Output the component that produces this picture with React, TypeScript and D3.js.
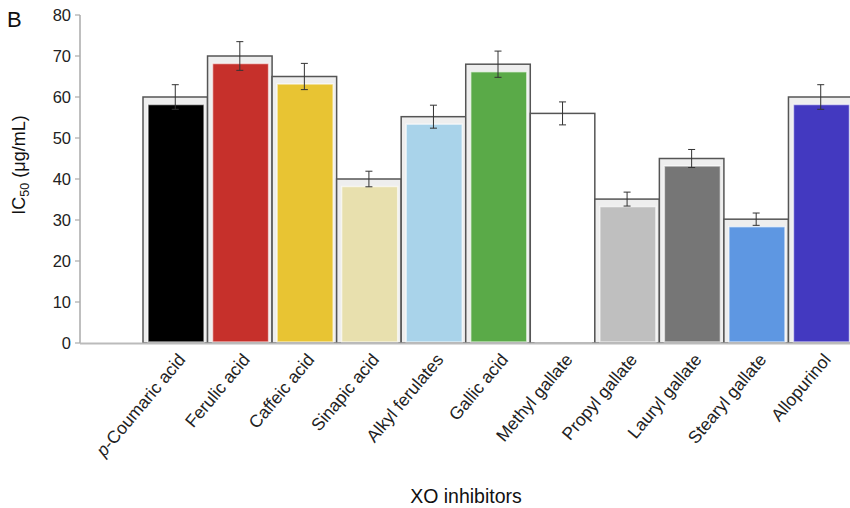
import { useEffect, useRef } from 'react';
import * as d3 from 'd3';

const inhibitors = [
  'p-Coumaric acid', 'Ferulic acid', 'Caffeic acid', 'Sinapic acid', 'Alkyl ferulates',
  'Gallic acid', 'Methyl gallate', 'Propyl gallate', 'Lauryl gallate', 'Stearyl gallate', 'Allopurinol'
];
const ic50 = [60, 70, 65, 40, 55.2, 68, 56, 35.1, 45, 30.2, 60];
const errors = [3, 3.5, 3.2, 1.9, 2.8, 3.2, 2.8, 1.7, 2.2, 1.5, 3];
const colors = [
  '#000000', '#c6302b', '#e8c433', '#e8e0ae', '#a9d3ea', '#5aaa48',
  '#ffffff', '#bfbfbf', '#767676', '#5e97e2', '#4339c0'
];
const yTicks = [0, 10, 20, 30, 40, 50, 60, 70, 80];

export default function App() {
  const svgRef = useRef<SVGSVGElement>(null);

  useEffect(() => {
    const svg = d3.select(svgRef.current);
    svg.selectAll('*').remove();

    const width = 850;
    const height = 508;
    const font = 'Liberation Sans, Arial, Helvetica, sans-serif';

    const x = d3.scaleBand<string>()
      .domain(inhibitors)
      .range([143, 853])
      .padding(0);

    const y = d3.scaleLinear()
      .domain([0, 80])
      .range([343, 15]);

    svg.attr('width', width).attr('height', height);

    // y axis
    svg.append('line')
      .attr('x1', 80).attr('x2', 80)
      .attr('y1', y(80)).attr('y2', y(0))
      .attr('stroke', '#aaa').attr('stroke-width', 1.5);

    const tick = svg.append('g').selectAll('g')
      .data(yTicks)
      .join('g')
      .attr('transform', d => `translate(0,${y(d)})`);
    tick.append('line')
      .attr('x1', 75).attr('x2', 80)
      .attr('stroke', '#aaa').attr('stroke-width', 1.2);
    tick.append('text')
      .attr('x', 71)
      .attr('dy', '0.35em')
      .attr('text-anchor', 'end')
      .attr('font-family', font)
      .attr('font-size', 16.5)
      .attr('fill', '#222')
      .text(d => d);

    // bars
    const bar = svg.append('g').selectAll('g')
      .data(inhibitors)
      .join('g');

    bar.append('rect')
      .attr('x', d => x(d)!)
      .attr('y', (d, i) => y(ic50[i]))
      .attr('width', x.bandwidth())
      .attr('height', (d, i) => y(0) - y(ic50[i]))
      .attr('fill', (d, i) => colors[i] === '#ffffff' ? '#ffffff' : '#eeeeee')
      .attr('stroke', '#555')
      .attr('stroke-width', 1.5);

    bar.append('rect')
      .attr('x', d => x(d)! + 5)
      .attr('y', (d, i) => y(ic50[i]) + 7.5)
      .attr('width', x.bandwidth() - 8.5)
      .attr('height', (d, i) => y(0) - y(ic50[i]) - 8.5)
      .attr('fill', (d, i) => colors[i])
      .attr('stroke', 'rgba(255,255,255,0.6)')
      .attr('stroke-width', 1.5);

    // error bars
    const err = svg.append('g').selectAll('g')
      .data(inhibitors)
      .join('g')
      .attr('transform', d => `translate(${x(d)! + x.bandwidth() / 2},0)`)
      .attr('stroke', '#333')
      .attr('stroke-width', 1);
    err.append('line')
      .attr('y1', (d, i) => y(ic50[i] + errors[i]))
      .attr('y2', (d, i) => y(ic50[i] - errors[i]));
    err.append('line')
      .attr('x1', -3.5).attr('x2', 3.5)
      .attr('y1', (d, i) => y(ic50[i] + errors[i]))
      .attr('y2', (d, i) => y(ic50[i] + errors[i]));
    err.append('line')
      .attr('x1', -3.5).attr('x2', 3.5)
      .attr('y1', (d, i) => y(ic50[i] - errors[i]))
      .attr('y2', (d, i) => y(ic50[i] - errors[i]));

    // x axis line
    svg.append('line')
      .attr('x1', 80).attr('x2', width)
      .attr('y1', y(0) + 0.5).attr('y2', y(0) + 0.5)
      .attr('stroke', '#bbb').attr('stroke-width', 2);

    // x labels
    const lab = svg.append('g').selectAll('text')
      .data(inhibitors)
      .join('text')
      .attr('transform', d => `translate(${x(d)! + x.bandwidth() / 2 + 11},${360}) rotate(-50)`)
      .attr('text-anchor', 'end')
      .attr('font-family', font)
      .attr('font-size', 17.5)
      .attr('fill', '#222');
    lab.each(function (d) {
      const t = d3.select(this);
      if (d.startsWith('p-')) {
        t.append('tspan').attr('font-style', 'italic').text('p');
        t.append('tspan').text(d.slice(1));
      } else {
        t.text(d);
      }
    });

    // axis titles
    const yt = svg.append('text')
      .attr('transform', 'translate(25,165) rotate(-90)')
      .attr('text-anchor', 'middle')
      .attr('font-family', font)
      .attr('font-size', 18)
      .attr('fill', '#111');
    yt.append('tspan').text('IC');
    yt.append('tspan').attr('font-size', 12.5).attr('dy', 4).text('50');
    yt.append('tspan').attr('dy', -4).text(' (μg/mL)');

    svg.append('text')
      .attr('x', 466)
      .attr('y', 503)
      .attr('text-anchor', 'middle')
      .attr('font-family', font)
      .attr('font-size', 19.5)
      .attr('fill', '#111')
      .text('XO inhibitors');

    svg.append('text')
      .attr('x', 7)
      .attr('y', 27)
      .attr('font-family', font)
      .attr('font-size', 22)
      .attr('fill', '#111')
      .text('B');
  }, []);

  return (
    <div style={{ position: 'absolute', left: 0, top: 0 }}>
      <svg ref={svgRef} style={{ display: 'block' }}></svg>
    </div>
  );
}
